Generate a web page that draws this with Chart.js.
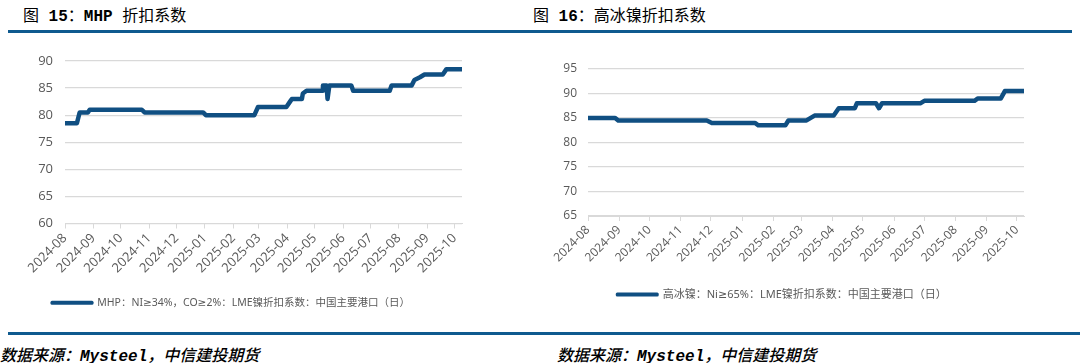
<!DOCTYPE html>
<html>
<head>
<meta charset="utf-8">
<script src="https://cdn.jsdelivr.net/npm/chart.js@4"></script>
<style>
  body { margin: 0; width: 1080px; height: 363px; background: #fff; position: relative; overflow: hidden; }
  .title { position: absolute; top: 2px; font: 16px "Liberation Mono", "Noto Sans CJK SC", sans-serif; color: #000; white-space: nowrap; }
  .title b { font-weight: bold; }
  .rule { position: absolute; height: 3px; background: #0f5a8f; }
  .foot { position: absolute; top: 342px; font: italic 500 16px "Liberation Mono", "Noto Sans CJK SC", sans-serif; color: #000; white-space: nowrap; }
  .box { position: absolute; }
</style>
</head>
<body>
<div class="title" style="left:23px">图 <b>15</b>：<b>MHP</b> 折扣系数</div>
<div class="title" style="left:533px">图 <b>16</b>：高冰镍折扣系数</div>
<div class="rule" style="left:8px; top:30px; width:1064px"></div>
<div class="rule" style="left:8px; top:332px; width:1072px"></div>
<div class="foot" style="left:0px">数据来源：<b>Mysteel</b>，中信建投期货</div>
<div class="foot" style="left:557px">数据来源：<b>Mysteel</b>，中信建投期货</div>
<div class="box" style="left:0px; top:40px"><canvas id="c1" width="482" height="278"></canvas></div>
<div class="box" style="left:540px; top:40px"><canvas id="c2" width="520" height="270"></canvas></div>
<script>
// month ticks
const monthLabels = ['2024-08','2024-09','2024-10','2024-11','2024-12','2025-01','2025-02',
  '2025-03','2025-04','2025-05','2025-06','2025-07','2025-08','2025-09','2025-10'];

// MHP: NI>=34%, CO>=2%
const mhpDates = ['2024-08-01','2024-08-14','2024-08-17','2024-08-26','2024-08-28','2024-10-24','2024-10-27',
  '2024-12-30','2025-01-02','2025-02-24','2025-02-28','2025-03-31','2025-04-04','2025-04-06','2025-04-17',
  '2025-04-18','2025-04-22','2025-05-09','2025-05-10','2025-05-14','2025-05-15','2025-05-17','2025-06-10',
  '2025-06-12','2025-07-22','2025-07-24','2025-08-15','2025-08-18','2025-08-24','2025-08-29','2025-09-18',
  '2025-09-22','2025-10-09'];
const mhpValues = [78.5,78.5,80.5,80.5,81,81,80.5,80.5,80,80,81.5,81.5,82.5,83,83,84,84.5,84.5,85.5,85.5,
  83,85.5,85.5,84.5,84.5,85.5,85.5,86.5,87,87.5,87.5,88.5,88.5];

// 高冰镍: Ni>=65%
const nickelDates = ['2024-08-01','2024-08-28','2024-08-31','2024-11-27','2024-12-02','2025-01-14','2025-01-17',
  '2025-02-13','2025-02-16','2025-03-06','2025-03-14','2025-04-02','2025-04-07','2025-04-23','2025-04-25',
  '2025-05-14','2025-05-17','2025-05-20','2025-06-27','2025-07-01','2025-08-20','2025-08-23','2025-09-15',
  '2025-09-19','2025-10-08'];
const nickelValues = [85,85,84.5,84.5,84,84,83.5,83.5,84.5,84.5,85.5,85.5,87,87,88,88,87,88,88,88.5,88.5,
  89,89,90.5,90.5];

const DAY = 86400000;
const origin = Date.UTC(2024, 7, 1);
const dayOf = s => { const p = s.split('-').map(Number); return (Date.UTC(p[0], p[1] - 1, p[2] || 1) - origin) / DAY; };
const monthTicks = monthLabels.map(dayOf);
const LINE = '#104f82';

function makeChart(id, dates, values, label, o) {
  const pts = dates.map((d, i) => ({ x: dayOf(d), y: values[i] }));
  return new Chart(document.getElementById(id), {
    type: 'line',
    data: { datasets: [{ label: label, data: pts, borderColor: LINE, backgroundColor: LINE,
      borderWidth: 4.5, pointRadius: 0, tension: 0, borderCapStyle: 'round', borderJoinStyle: 'round' }] },
    options: {
      responsive: false, devicePixelRatio: 1, animation: false,
      layout: { padding: { top: o.top, right: o.right, left: 0, bottom: 0 } },
      plugins: {
        tooltip: { enabled: false },
        legend: { position: 'bottom', labels: { boxWidth: 40, boxHeight: 1, color: '#595959',
          font: { family: '"Noto Sans", "DejaVu Sans", "Noto Sans CJK SC", sans-serif', size: o.lfs },
          generateLabels: ch => Chart.defaults.plugins.legend.labels.generateLabels(ch)
            .map(l => Object.assign(l, { lineWidth: 3 })) } }
      },
      scales: {
        x: {
          type: 'linear', min: 0, max: pts[pts.length - 1].x,
          afterBuildTicks: s => { s.ticks = monthTicks.map(v => ({ value: v })); },
          afterFit: s => { s.height = o.xh; },
          ticks: { minRotation: 45, maxRotation: 45, color: '#595959', padding: 2,
            font: { family: '"Open Sans", sans-serif', size: o.fs },
            callback: (v, i) => monthLabels[i] },
          grid: { drawOnChartArea: false, tickLength: 5, color: '#d9d9d9' },
          border: { color: '#d9d9d9' }
        },
        y: {
          min: o.min, max: o.max,
          afterFit: s => { s.width = o.yw; },
          ticks: { stepSize: 5, color: '#595959', padding: o.pad,
            font: { family: '"Open Sans", sans-serif', size: o.fs } },
          grid: { drawTicks: false, color: '#d9d9d9', lineWidth: 1.2 },
          border: { display: false }
        }
      }
    }
  });
}

makeChart('c1', mhpDates, mhpValues, 'MHP：NI≥34%，CO≥2%：LME镍折扣系数：中国主要港口（日）',
  { top: 21, right: 20, xh: 64, yw: 65, pad: 12, min: 60, max: 90, fs: 13, lfs: 10.5 });
makeChart('c2', nickelDates, nickelValues, '高冰镍：Ni≥65%：LME镍折扣系数：中国主要港口（日）',
  { top: 29, right: 36, xh: 63, yw: 48, pad: 11, min: 65, max: 95, fs: 12, lfs: 11 });
</script>
</body>
</html>
